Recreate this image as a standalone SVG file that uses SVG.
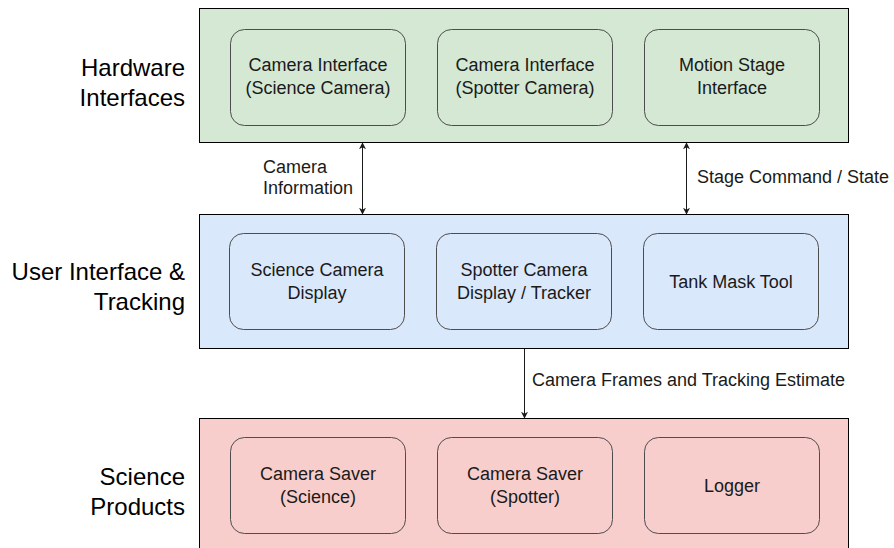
<svg xmlns="http://www.w3.org/2000/svg" width="894" height="548" viewBox="0 0 894 548">
  <style>
    .tier { stroke: #000; stroke-width: 1; }
    .green { fill: #d5e8d4; }
    .blue { fill: #dae8fc; }
    .red { fill: #f8cecc; }
    .box { fill: none; stroke: #4d4d4d; stroke-width: 1; }
    .node text { font-family: "Liberation Sans", Arial, sans-serif; font-size: 18px; fill: #1a1a1a; text-anchor: middle; }
    .tierlabel { font-family: "Liberation Sans", Arial, sans-serif; font-size: 24px; fill: #000; text-anchor: end; }
    .edge { stroke: #1a1a1a; stroke-width: 1; fill: none; }
    .edgelabel { font-family: "Liberation Sans", Arial, sans-serif; font-size: 18px; fill: #1a1a1a; }
  </style>
  <defs>
    <marker id="arrow" viewBox="0 0 10 10" refX="9" refY="5" markerWidth="7" markerHeight="7" markerUnits="userSpaceOnUse" orient="auto-start-reverse">
      <path d="M0,0 L10,5 L0,10 L3,5 Z" fill="#1a1a1a"/>
    </marker>
  </defs>

  <rect width="894" height="548" fill="#fff"/>

  <!-- tier panels -->
  <g id="tier-hardware">
    <rect class="tier green" x="199.5" y="8.5" width="649" height="134"/>
    <text class="tierlabel" x="185" y="76">Hardware</text>
    <text class="tierlabel" x="185" y="106">Interfaces</text>
  </g>
  <g id="tier-ui">
    <rect class="tier blue" x="199.5" y="214.5" width="649" height="134"/>
    <text class="tierlabel" x="185" y="280">User Interface &amp;</text>
    <text class="tierlabel" x="185" y="310">Tracking</text>
  </g>
  <g id="tier-products">
    <rect class="tier red" x="199.5" y="418.5" width="649" height="134"/>
    <text class="tierlabel" x="185" y="485">Science</text>
    <text class="tierlabel" x="185" y="515">Products</text>
  </g>

  <!-- hardware nodes -->
  <g id="cam-if-science" class="node">
    <rect class="box" x="230.5" y="29.5" width="175" height="96" rx="14"/>
    <text x="318" y="71">Camera Interface</text>
    <text x="318" y="94">(Science Camera)</text>
  </g>
  <g id="cam-if-spotter" class="node">
    <rect class="box" x="437.5" y="29.5" width="175" height="96" rx="14"/>
    <text x="525" y="71">Camera Interface</text>
    <text x="525" y="94">(Spotter Camera)</text>
  </g>
  <g id="motion-stage-if" class="node">
    <rect class="box" x="644.5" y="29.5" width="175" height="96" rx="14"/>
    <text x="732" y="71">Motion Stage</text>
    <text x="732" y="94">Interface</text>
  </g>

  <!-- user interface nodes -->
  <g id="science-display" class="node">
    <rect class="box" x="229.5" y="233.5" width="175" height="96" rx="14"/>
    <text x="317" y="276">Science Camera</text>
    <text x="317" y="299">Display</text>
  </g>
  <g id="spotter-display" class="node">
    <rect class="box" x="436.5" y="233.5" width="175" height="96" rx="14"/>
    <text x="524" y="276">Spotter Camera</text>
    <text x="524" y="299">Display / Tracker</text>
  </g>
  <g id="tank-mask" class="node">
    <rect class="box" x="643.5" y="233.5" width="175" height="96" rx="14"/>
    <text x="731" y="288">Tank Mask Tool</text>
  </g>

  <!-- science product nodes -->
  <g id="saver-science" class="node">
    <rect class="box" x="230.5" y="437.5" width="175" height="96" rx="14"/>
    <text x="318" y="480">Camera Saver</text>
    <text x="318" y="503">(Science)</text>
  </g>
  <g id="saver-spotter" class="node">
    <rect class="box" x="437.5" y="437.5" width="175" height="96" rx="14"/>
    <text x="525" y="480">Camera Saver</text>
    <text x="525" y="503">(Spotter)</text>
  </g>
  <g id="logger" class="node">
    <rect class="box" x="644.5" y="437.5" width="175" height="96" rx="14"/>
    <text x="732" y="492">Logger</text>
  </g>

  <!-- connectors -->
  <g id="connectors">
    <line class="edge" x1="362.5" y1="143" x2="362.5" y2="214" marker-start="url(#arrow)" marker-end="url(#arrow)"/>
    <text class="edgelabel" x="263" y="173">Camera</text>
    <text class="edgelabel" x="263" y="194">Information</text>

    <line class="edge" x1="686.5" y1="143" x2="686.5" y2="214" marker-start="url(#arrow)" marker-end="url(#arrow)"/>
    <text class="edgelabel" x="697" y="183">Stage Command / State</text>

    <line class="edge" x1="524.5" y1="349" x2="524.5" y2="418" marker-end="url(#arrow)"/>
    <text class="edgelabel" x="532" y="386">Camera Frames and Tracking Estimate</text>
  </g>
</svg>
